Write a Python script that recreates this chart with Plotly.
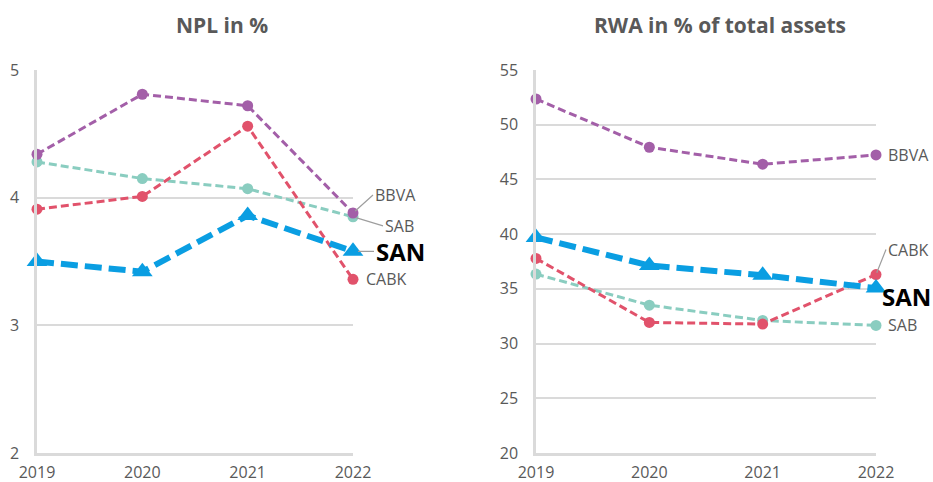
import plotly.graph_objects as go

years = [2019, 2020, 2021, 2022]

npl_bbva = [4.34, 4.81, 4.72, 3.88]
npl_sab = [4.28, 4.15, 4.07, 3.85]
npl_cabk = [3.91, 4.01, 4.56, 3.36]
npl_san = [3.50, 3.42, 3.86, 3.58]

rwa_bbva = [52.35, 47.94, 46.39, 47.24]
rwa_sab = [36.35, 33.51, 32.11, 31.66]
rwa_cabk = [37.78, 31.93, 31.78, 36.31]
rwa_san = [39.7, 37.14, 36.25, 35.07]

C_BBVA = "#A35FA8"
C_SAB = "#8ACDC0"
C_CABK = "#E1526B"
C_SAN = "#0A9EE2"
TXT = "#595959"
GRID = "#DADADA"
FONT = "Open Sans"

fig = go.Figure()

def add_series(xa, ya, bbva, sab, cabk, san):
    for vals, col in [(sab, C_SAB), (cabk, C_CABK), (bbva, C_BBVA)]:
        fig.add_trace(go.Scatter(
            x=years, y=vals, xaxis=xa, yaxis=ya, mode="lines+markers",
            line=dict(color=col, width=3, dash="8px,4px"),
            marker=dict(symbol="circle", size=11, color=col),
            cliponaxis=False, showlegend=False, hoverinfo="skip"))
    fig.add_trace(go.Scatter(
        x=years, y=san, xaxis=xa, yaxis=ya, mode="lines+markers",
        line=dict(color=C_SAN, width=6, dash="17px,7px"),
        marker=dict(symbol="triangle-up", size=18, color=C_SAN),
        cliponaxis=False, showlegend=False, hoverinfo="skip"))

add_series("x", "y", npl_bbva, npl_sab, npl_cabk, npl_san)
add_series("x2", "y2", rwa_bbva, rwa_sab, rwa_cabk, rwa_san)

L, R, T, B = 37, 57, 70, 29
PW = 933 - L - R
xcommon = dict(range=[2019, 2022], tickvals=years, ticktext=[str(y) for y in years],
               showgrid=False, showline=True, linecolor=GRID, linewidth=2.5, automargin=False,
               zeroline=False, ticks="outside", ticklen=3, tickcolor="rgba(0,0,0,0)",
               tickfont=dict(family=FONT, size=16, color=TXT))
ycommon = dict(showgrid=True, gridcolor=GRID, gridwidth=2, showline=True, automargin=False,
               linecolor=GRID, linewidth=2.5, zeroline=False, ticks="outside",
               ticklen=12, tickcolor="rgba(0,0,0,0)",
               tickfont=dict(family=FONT, size=16, color=TXT))

fig.update_layout(
    width=933, height=482, margin=dict(l=L, r=R, t=T, b=B, autoexpand=False),
    plot_bgcolor="white", paper_bgcolor="white",
    xaxis=dict(domain=[0, (353 - L) / PW], anchor="y", **xcommon),
    yaxis=dict(domain=[0, 1], anchor="x", range=[2, 5], dtick=1, **ycommon),
    xaxis2=dict(domain=[(536 - L) / PW, 1], anchor="y2", **xcommon),
    yaxis2=dict(domain=[0, 1], anchor="x2", range=[20, 55], dtick=5, **ycommon),
    font=dict(family=FONT, color=TXT),
    hovermode=False,
)

ann = []
lab = dict(family=FONT, size=16, color=TXT)
san_font = dict(family=FONT, size=24, color="black", weight="bold")
title_font = dict(family=FONT, size=21, color=TXT)

# Titles (paper coords relative to plot area)
ann.append(dict(text="<b>NPL in %</b>", xref="paper", yref="paper", x=(222 - L) / PW,
                y=1 + (70 - 25) / (482 - T - B), showarrow=False, font=title_font,
                xanchor="center", yanchor="middle"))
ann.append(dict(text="<b>RWA in % of total assets</b>", xref="paper", yref="paper", x=(720 - L) / PW,
                y=1 + (70 - 25) / (482 - T - B), showarrow=False, font=title_font,
                xanchor="center", yanchor="middle"))

# Left end labels
ann.append(dict(text="BBVA", xref="x", yref="y", x=years[-1], y=npl_bbva[-1], showarrow=True, arrowhead=0,
                arrowcolor="#9E9E9E", arrowwidth=1.2, ax=20, ay=-18, xanchor="left", font=lab, standoff=3))
ann.append(dict(text="SAB", xref="x", yref="y", x=years[-1], y=npl_sab[-1], showarrow=True, arrowhead=0,
                arrowcolor="#9E9E9E", arrowwidth=1.2, ax=30, ay=9, xanchor="left", font=lab, standoff=3))
ann.append(dict(text="SAN", xref="x", yref="y", x=years[-1], y=npl_san[-1], showarrow=True, arrowhead=0,
                arrowcolor="#9E9E9E", arrowwidth=1.2, ax=21, ay=0, xanchor="left", font=san_font, standoff=5))
ann.append(dict(text="CABK", xref="x", yref="y", x=years[-1], y=npl_cabk[-1], showarrow=False,
                xanchor="left", xshift=11, font=lab))

# Right end labels
ann.append(dict(text="BBVA", xref="x2", yref="y2", x=years[-1], y=rwa_bbva[-1], showarrow=False,
                xanchor="left", xshift=10, font=lab))
ann.append(dict(text="CABK", xref="x2", yref="y2", x=years[-1], y=rwa_cabk[-1], showarrow=True, arrowhead=0,
                arrowcolor="#9E9E9E", arrowwidth=1.2, ax=10, ay=-25, xanchor="left", font=lab, standoff=2))
ann.append(dict(text="SAN", xref="x2", yref="y2", x=years[-1], y=rwa_san[-1], showarrow=False,
                xanchor="left", xshift=4, yshift=-8, font=san_font))
ann.append(dict(text="SAB", xref="x2", yref="y2", x=years[-1], y=rwa_sab[-1], showarrow=False,
                xanchor="left", xshift=10, font=lab))

fig.update_layout(annotations=ann)

fig.write_html("out.html", config={"displayModeBar": False},
               post_script="document.body.style.margin='0';document.body.style.overflow='hidden';")
